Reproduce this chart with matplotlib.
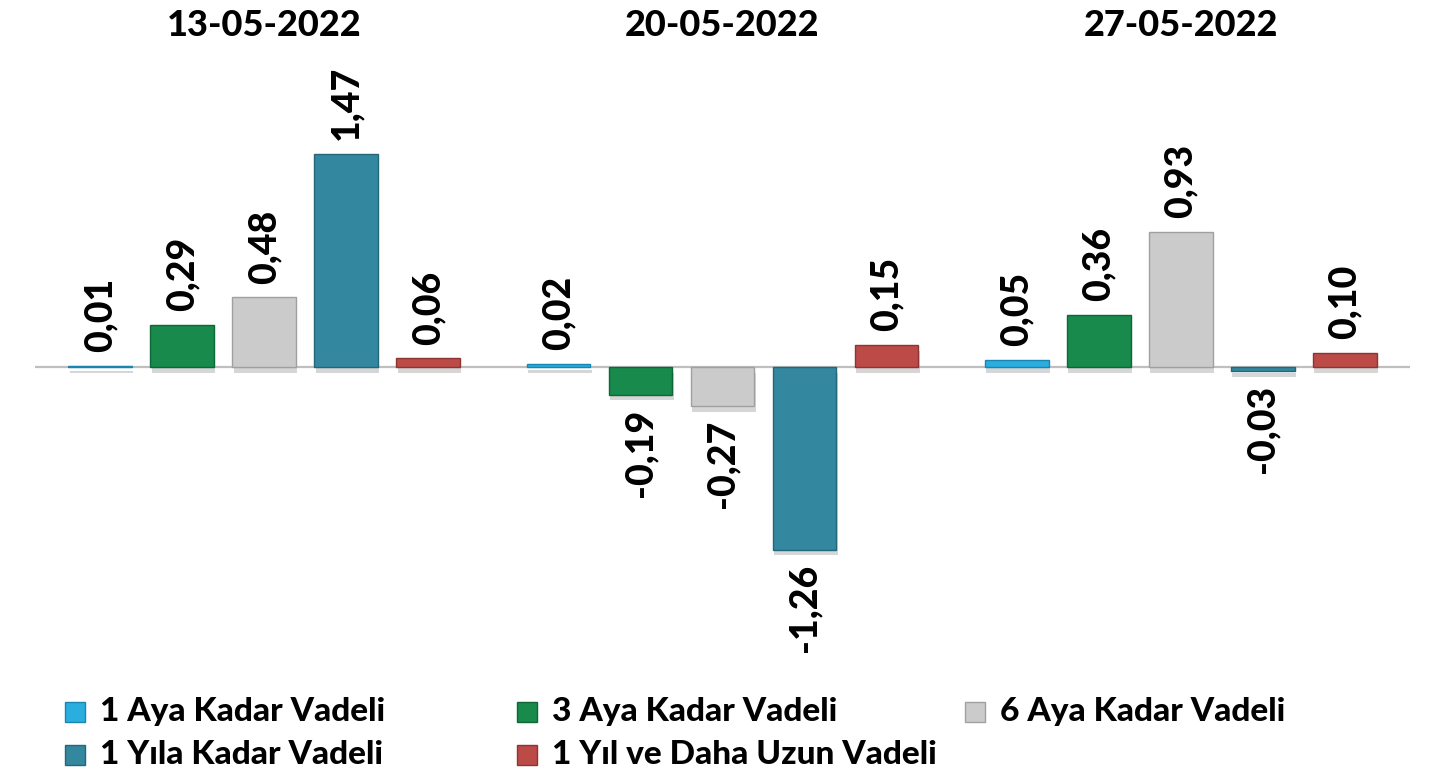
import matplotlib
matplotlib.use("Agg")
import matplotlib.pyplot as plt
import matplotlib.patheffects as pe
import matplotlib.transforms as mtransforms
from matplotlib.patches import Rectangle
import numpy as np

plt.rcParams['font.family'] = ['Lato', 'DejaVu Sans']

dates = ["13-05-2022", "20-05-2022", "27-05-2022"]
series_names = ["1 Aya Kadar Vadeli", "3 Aya Kadar Vadeli", "6 Aya Kadar Vadeli",
                "1 Yıla Kadar Vadeli", "1 Yıl ve Daha Uzun Vadeli"]
s_1ay = [0.01, 0.02, 0.05]
s_3ay = [0.29, -0.19, 0.36]
s_6ay = [0.48, -0.27, 0.93]
s_1yil = [1.47, -1.26, -0.03]
s_uzun = [0.06, 0.15, 0.10]
series = [s_1ay, s_3ay, s_6ay, s_1yil, s_uzun]
colors = ["#2AAEE0", "#178A4C", "#CBCBCB", "#33889F", "#BC4B48"]
edges = ["#1A86B0", "#0F6637", "#A0A0A0", "#24667A", "#8E3533"]

W, H = 1435, 784
fig = plt.figure(figsize=(W / 100, H / 100), dpi=100)
ax = fig.add_axes([35 / W, 1 - 680 / H, 1375 / W, 680 / H])
ax.set_xlim(-0.5, 2.5)
ax.set_ylim(-(680 - 367) / 145.0, 367 / 145.0)
ax.axis("off")

ax.axhline(0, color="#BFBFBF", lw=1.6, zorder=1)

x = np.arange(len(dates))
step = 0.179
width = 0.139
shadow = [pe.SimplePatchShadow(offset=(1, -4), shadow_rgbFace="#9A9A9A", alpha=0.4), pe.Normal()]
for i, vals in enumerate(series):
    xs = x + (i - 2) * step
    bars = ax.bar(xs, vals, width=width, color=colors[i], edgecolor=edges[i],
                  linewidth=1.0, zorder=3)
    for b in bars:
        b.set_path_effects(shadow)
    for xi, v in zip(xs, vals):
        txt = f"{v:.2f}".replace(".", ",")
        off = 0.095
        if v >= 0:
            ax.text(xi, v + off, txt, rotation=90, ha="center", va="bottom",
                    fontsize=27, fontweight="black", color="black", zorder=4)
        else:
            ax.text(xi, v - off, txt, rotation=90, ha="center", va="top",
                    fontsize=27, fontweight="black", color="black", zorder=4)

tr = mtransforms.blended_transform_factory(ax.transData, fig.transFigure)
for xi, d in zip(x, dates):
    ax.text(xi, 1 - 25 / H, d, transform=tr,
            ha="center", va="center", fontsize=26, fontweight="black")

# legend (manual, row-major layout)
leg_pos = [(75, 712), (527, 712), (975, 712), (75, 755), (527, 755)]
for (px, py), name, c, e in zip(leg_pos, series_names, colors, edges):
    fig.patches.append(Rectangle(((px - 10) / W, 1 - (py + 10) / H), 20 / W, 20 / H,
                                 transform=fig.transFigure, facecolor=c,
                                 edgecolor=e, linewidth=1.0))
    fig.text((px + 25) / W, 1 - py / H, name, ha="left", va="center",
             fontsize=24, fontweight="black")

fig.savefig("out.png", dpi=100)
